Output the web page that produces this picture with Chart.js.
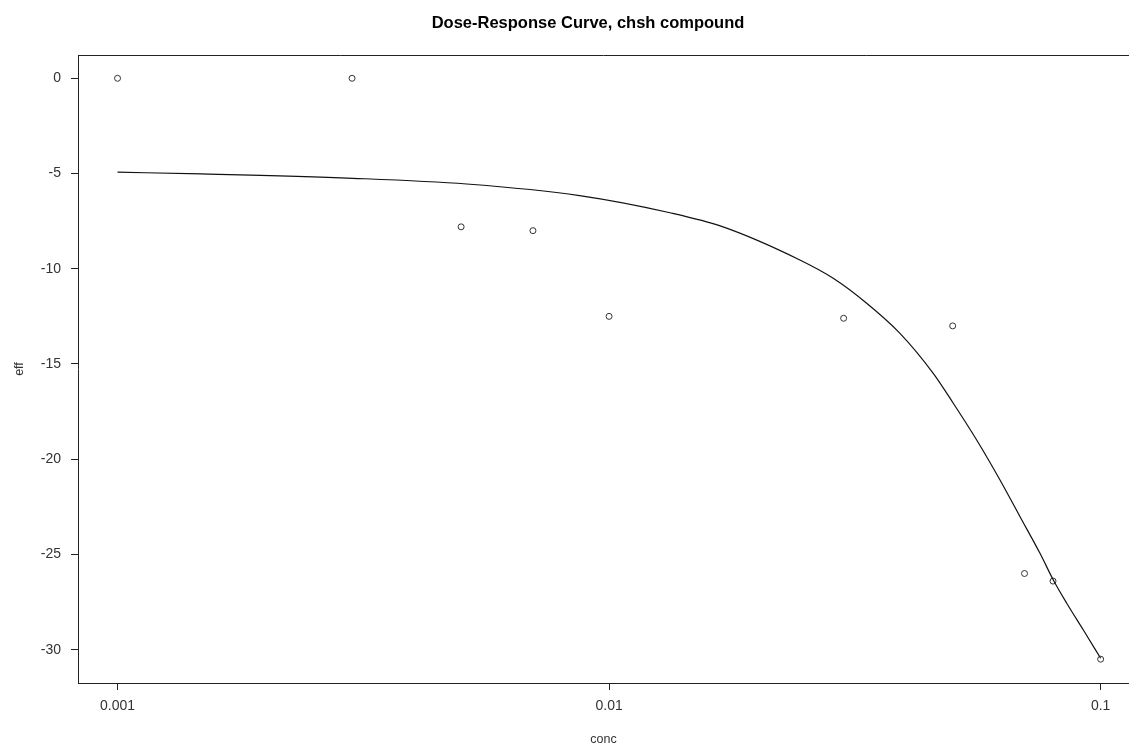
<!DOCTYPE html>
<html>
<head>
<meta charset="utf-8">
<script src="https://cdn.jsdelivr.net/npm/chart.js@4"></script>
<style>
html,body{margin:0;padding:0;background:#fff;}
#c{display:block;}
</style>
</head>
<body>
<canvas id="c" width="1129" height="747"></canvas>
<script>
const chartTitle = "Dose-Response Curve, chsh compound";
const xTitle = "conc";
const yTitle = "eff";
const xTicks = [0.001, 0.01, 0.1];
const xTickLabels = ["0.001", "0.01", "0.1"];
const yTicks = [0, -5, -10, -15, -20, -25, -30];

const conc = [0.001, 0.003, 0.005, 0.007, 0.01, 0.03, 0.05, 0.07, 0.08, 0.1];
const eff  = [0, 0, -7.8, -8.0, -12.5, -12.6, -13.0, -26.0, -26.4, -30.5];

const fitConc = [0.001, 0.00148, 0.00301, 0.00513, 0.00871, 0.0133, 0.0170, 0.02444, 0.02857, 0.03342, 0.03906, 0.04565, 0.05014, 0.05595, 0.06241, 0.06855, 0.07526, 0.08011, 0.08531, 0.09222, 0.1];
const fitEff  = [-4.93, -5.02, -5.25, -5.55, -6.16, -7.06, -7.79, -9.54, -10.50, -11.81, -13.39, -15.49, -17.06, -18.99, -21.09, -23.02, -24.94, -26.34, -27.56, -28.97, -30.45];

const FONT = "'Liberation Sans', Arial, sans-serif";

const frame = {
  id: 'frame',
  afterDraw(chart) {
    const {ctx, chartArea: a} = chart;
    ctx.save();
    ctx.strokeStyle = '#222';
    ctx.lineWidth = 1;
    ctx.beginPath();
    const t = Math.round(a.top) + 0.5;
    ctx.moveTo(Math.round(a.left), t);
    ctx.lineTo(chart.width, t);
    ctx.stroke();
    ctx.fillStyle = '#000';
    ctx.font = "bold 16.5px " + FONT;
    ctx.textAlign = 'center';
    ctx.textBaseline = 'middle';
    ctx.fillText(chartTitle, 588, 23);
    ctx.restore();
  }
};

new Chart(document.getElementById('c'), {
  type: 'scatter',
  data: {
    datasets: [
      {
        label: 'fit',
        type: 'line',
        data: fitConc.map((x, i) => ({x: x, y: fitEff[i]})),
        borderColor: '#111',
        borderWidth: 1.2,
        pointRadius: 0,
        fill: false,
        cubicInterpolationMode: 'monotone'
      },
      {
        label: 'data',
        data: conc.map((x, i) => ({x: x, y: eff[i]})),
        borderColor: '#333',
        backgroundColor: '#fff',
        borderWidth: 1,
        pointRadius: 3,
        pointStyle: 'circle',
        showLine: false
      }
    ]
  },
  options: {
    responsive: false,
    animation: false,
    devicePixelRatio: 1,
    layout: {autoPadding: false, padding: {top: 55, right: 0, left: 0, bottom: 0}},
    plugins: {
      legend: {display: false},
      title: {display: false},
      tooltip: {enabled: false}
    },
    scales: {
      x: {
        type: 'logarithmic',
        min: 0.000831,
        max: 0.1142,
        afterFit(s) { s.height = 64; s.paddingLeft = 0; s.paddingRight = 0; },
        afterBuildTicks(s) { s.ticks = xTicks.map(v => ({value: v})); },
        grid: {drawOnChartArea: false, drawTicks: true, tickLength: 7, color: '#222'},
        border: {display: true, color: '#222'},
        ticks: {
          padding: 8,
          color: '#333',
          font: {family: FONT, size: 14},
          maxRotation: 0,
          autoSkip: false,
          callback: (v) => { const i = xTicks.indexOf(v); return i >= 0 ? xTickLabels[i] : ''; }
        },
        title: {display: true, text: xTitle, color: '#333', font: {family: FONT, size: 12.5}, padding: {top: 0, bottom: 0}}
      },
      y: {
        type: 'linear',
        min: -31.75,
        max: 1.223,
        afterFit(s) { s.width = 78; s.paddingTop = 0; s.paddingBottom = 0; },
        afterBuildTicks(s) { s.ticks = yTicks.map(v => ({value: v})); },
        grid: {drawOnChartArea: false, drawTicks: true, tickLength: 7, color: '#222'},
        border: {display: true, color: '#222'},
        ticks: {
          padding: 10,
          color: '#333',
          font: {family: FONT, size: 14},
          callback: (v) => String(v)
        },
        title: {display: true, text: yTitle, color: '#333', font: {family: FONT, size: 12.5}, padding: {top: 12, bottom: 0}}
      }
    }
  },
  plugins: [frame]
});
</script>
</body>
</html>
